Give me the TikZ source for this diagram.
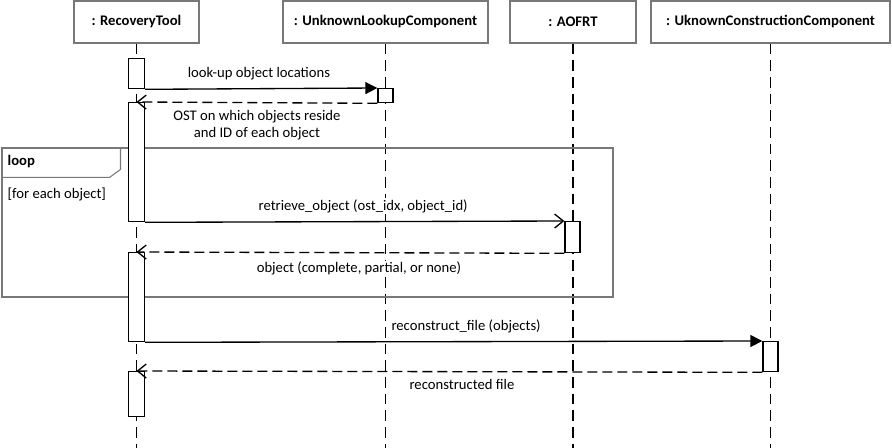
\documentclass[tikz,border=0pt]{standalone}
\usepackage{fontspec}
\setmainfont{Carlito}
\usetikzlibrary{arrows.meta,positioning}
\definecolor{framegray}{RGB}{120,120,120}
\newcommand{\dsize}{\fontsize{11}{12.75}\selectfont}
\tikzset{
  obj/.style={draw=framegray,line width=0.8pt,minimum height=31.5pt,inner sep=0pt,font=\dsize\bfseries},
  act/.style={draw,fill=white,line width=1pt,minimum width=11.25pt,inner sep=0pt,anchor=north},
  life/.style={line width=1.1pt,dash pattern=on 8pt off 4.5pt},
  lbl/.style={fill=white,inner sep=1pt},
  call/.style={line width=1pt,-{Triangle[length=9pt,width=9pt]}},
  async/.style={line width=1pt,-{Straight Barb[length=6.5pt,width=10.5pt]}},
  reply/.style={line width=1pt,dash pattern=on 7.5pt off 3.75pt,-{Straight Barb[length=6.5pt,width=10.5pt]}}
}
\begin{document}
\begin{tikzpicture}[x=0.75pt,y=-0.75pt,font=\dsize]
  \useasboundingbox (0,0) rectangle (892,448);
  \coordinate (end) at (0,448);
  \node[obj,minimum width=93.75pt] (rt) at (136.5,22) {: RecoveryTool};
  \node[obj,minimum width=153.75pt] (ulc) at (385.5,22) {: UnknownLookupComponent};
  \node[obj,minimum width=94.5pt] (aofrt) at (573,22) {: AOFRT};
  \node[obj,minimum width=179.25pt] (ucc) at (770.5,22) {: UknownConstructionComponent};
  \foreach \o in {rt,ulc,aofrt,ucc}
    \draw[life] (\o.south) -- (\o.south |- end);

  \node[draw=framegray,line width=0.8pt,minimum width=458.25pt,minimum height=111.75pt,inner sep=0pt] (loop) at (307.5,222.5) {};
  \draw[framegray,line width=0.8pt] (loop.north west) ++(119,0) -- ++(0,22) -- ++(-11,8) -- ++(-108,0);
  \node[anchor=west,font=\dsize\bfseries] (lp) at (3,162) {loop};
  \node[below=24pt of lp.west,anchor=west] (guard) {[for each object]};

  \node[act,minimum width=12pt,minimum height=22.5pt] (a1) at (136.5,58) {};
  \node[act,minimum height=10.5pt] (b1) at (385.5,88) {};
  \node[act,minimum width=12pt,minimum height=89.25pt] (a2) at (136.5,102) {};
  \node[act,minimum height=23.25pt] (c1) at (572.5,221) {};
  \node[act,minimum width=12pt,minimum height=66.75pt] (a3) at (136.5,252) {};
  \node[act,minimum height=22.5pt] (d1) at (770.5,341) {};
  \node[act,minimum width=12pt,minimum height=33.75pt] (a4) at (136.5,371) {};

  \draw[call] (a1.south east) -- node[lbl,above=5pt,pos=0.49] {look-up object locations} (b1.north west);
  \draw[reply] (b1.south west) -- node[lbl,below=4pt,align=center] {OST on which objects reside\\and ID of each object} (a2.north);
  \draw[async] (a2.south east) -- node[lbl,above=5pt,pos=0.52] {retrieve\_object (ost\_idx, object\_id)} (c1.north west);
  \draw[reply] (c1.south west) -- node[lbl,below=5.5pt,pos=0.48] {object (complete, partial, or none)} (a3.north);
  \draw[call] (a3.south east) -- node[lbl,above=5pt,pos=0.52] {reconstruct\_file (objects)} (d1.north west);
  \draw[reply] (d1.south west) -- node[lbl,below=4.5pt,pos=0.48] {reconstructed file} (a4.north);
\end{tikzpicture}
\end{document}
